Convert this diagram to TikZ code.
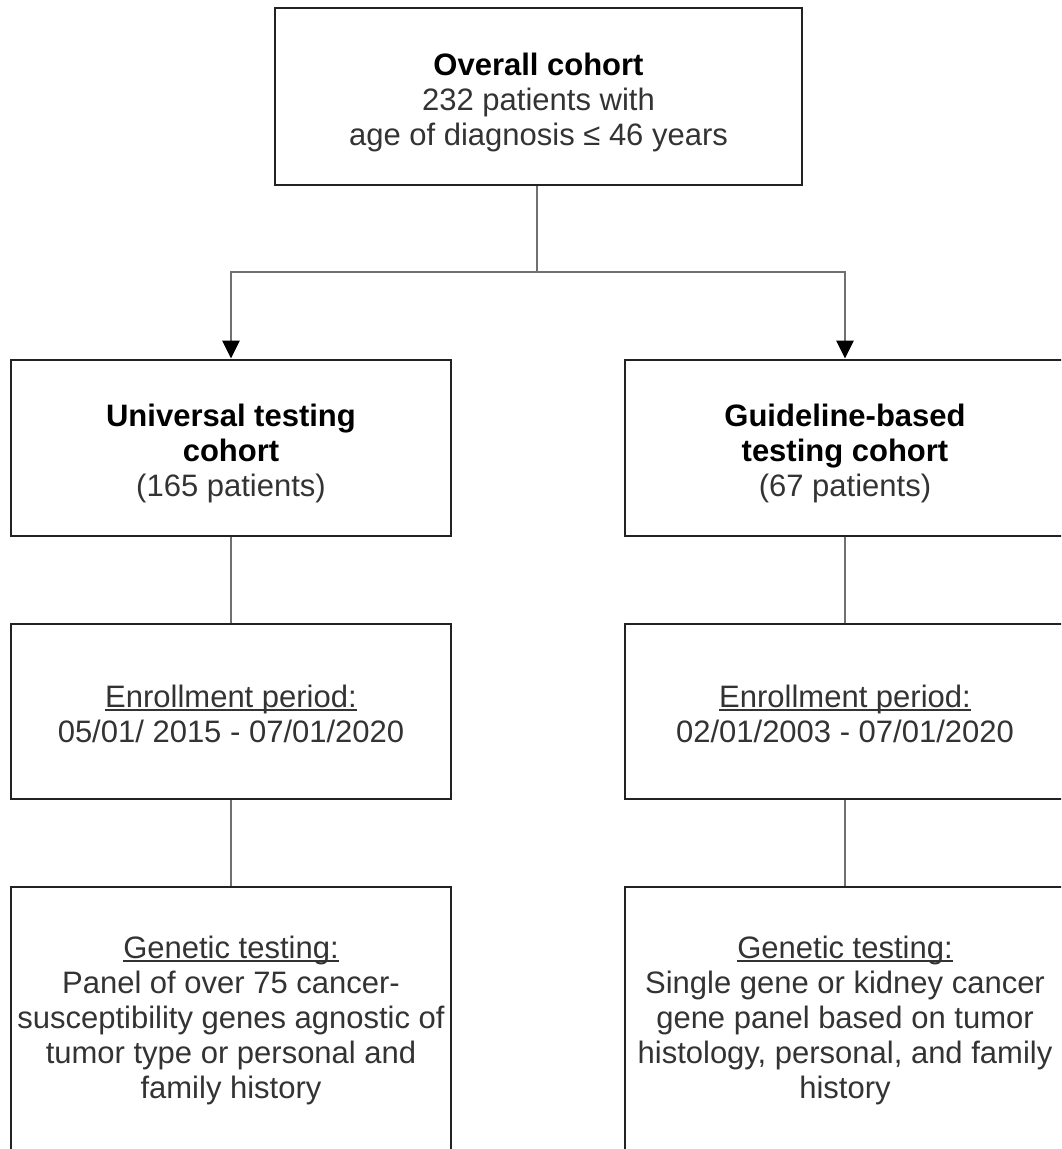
\documentclass[tikz,border=0pt]{standalone}
\usepackage{fontspec}
\setmainfont{Liberation Sans}
\usetikzlibrary{arrows.meta}
\definecolor{txtgray}{HTML}{333333}
\definecolor{linegray}{HTML}{707070}
\definecolor{boxline}{HTML}{222222}
\tikzset{
  box/.style={draw=boxline, line width=2.8pt, rectangle, align=center,
    text=txtgray, font=\fontsize{31}{35}\selectfont, inner sep=0pt},
  conn/.style={draw=linegray, line width=2.8pt},
  arrowconn/.style={conn, -{Triangle[length=18pt,width=17pt,fill=black,color=black]}},
}
\newcommand{\hd}[1]{\textbf{\color{black}#1}}
\newcommand{\myul}[1]{\setbox0\hbox{#1}\rlap{\vrule height -2pt depth 4pt width \wd0}\box0}
\newcommand{\tstrut}[1]{\rule{0pt}{#1}}
\begin{document}
\begin{tikzpicture}[x=1pt,y=-1pt]
\useasboundingbox (0,0) rectangle (1061,1149);
\clip (0,0) rectangle (1061,1149);
% top box
\node[box, minimum width=527pt, minimum height=177pt] (top) at (538.5,96.5)
  {\tstrut{34pt}\hd{Overall cohort}\\232 patients with\\age of diagnosis ≤ 46 years};
% left column
\node[box, minimum width=440pt, minimum height=176pt] (uni) at (231,448)
  {\tstrut{33pt}\hd{Universal testing}\\\hd{cohort}\\(165 patients)};
\node[box, minimum width=440pt, minimum height=175pt] (uenr) at (231,711.5)
  {\tstrut{27pt}\myul{Enrollment period:}\\05/01/ 2015 - 07/01/2020};
\node[box, minimum width=440pt, minimum height=266pt] (ugen) at (231,1020)
  {\myul{Genetic testing:}\\Panel of over 75 cancer-\\susceptibility genes agnostic of\\tumor type or personal and\\family history};
% right column
\node[box, minimum width=440pt, minimum height=176pt] (gui) at (845,448)
  {\tstrut{33pt}\hd{Guideline-based}\\\hd{testing cohort}\\(67 patients)};
\node[box, minimum width=440pt, minimum height=175pt] (genr) at (845,711.5)
  {\tstrut{27pt}\myul{Enrollment period:}\\02/01/2003 - 07/01/2020};
\node[box, minimum width=440pt, minimum height=266pt] (ggen) at (845,1020)
  {\myul{Genetic testing:}\\Single gene or kidney cancer\\gene panel based on tumor\\histology, personal, and family\\history};
% connectors
\coordinate (junc) at (537,272);
\draw[conn] (top.south -| junc) -- (junc);
\draw[arrowconn] (junc) -| (uni.north);
\draw[arrowconn] (junc) -| (gui.north);
\draw[conn] (uni.south) -- (uenr.north);
\draw[conn] (uenr.south) -- (ugen.north);
\draw[conn] (gui.south) -- (genr.north);
\draw[conn] (genr.south) -- (ggen.north);
\end{tikzpicture}
\end{document}
